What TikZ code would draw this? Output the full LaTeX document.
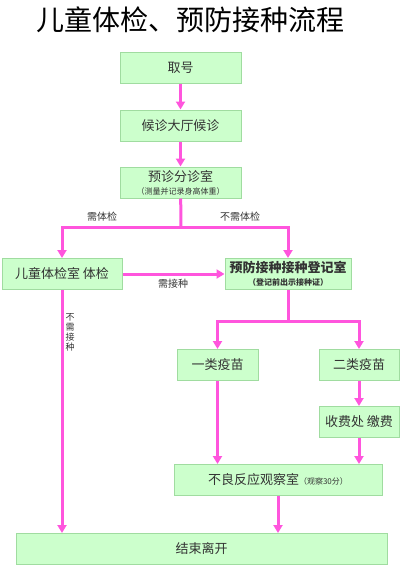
\documentclass[tikz,border=0pt]{standalone}
\usepackage{fontspec}
\newfontfamily\cjk{Noto Sans CJK SC}
\usetikzlibrary{arrows.meta}
\definecolor{boxfill}{HTML}{CCFFCC}
\definecolor{boxline}{HTML}{A0DCA0}
\definecolor{flowpink}{HTML}{FF55DD}
\definecolor{txt}{HTML}{333333}

\begin{document}
\begin{tikzpicture}[x=1pt, y=-1pt, >={Triangle[length=8pt,width=9pt]},
				box/.style={draw=boxline, fill=boxfill, line width=1pt, inner sep=0pt, minimum height=31pt, text=txt, align=center, font=\cjk\fontsize{13}{15}\selectfont},
				flow/.style={->, flowpink, line width=3pt},
				flowline/.style={flowpink, line width=3pt},
				lbl/.style={text=txt, inner sep=0pt, font=\cjk\fontsize{10}{10}\selectfont}]
				
				\useasboundingbox (0,0) rectangle (400,566);
				
				% --- 1. 标题 ---
				\node[text=black, font=\cjk\fontsize{28}{30}\selectfont] (title) at (191,20) {儿童体检、预防接种流程};
				
				% --- 2. 流程框 ---
				\node[box, minimum width=121pt] (quhao) at (180.5,67.5) {取号};
				\node[box, minimum width=121pt] (houzhen) at (180.5,125.5) {候诊大厅候诊};
				\node[box, minimum width=121pt] (fenzhen) at (180.5,182.5) {预诊分诊室\\[-2pt]{\fontsize{8}{9}\selectfont （测量并记录身高体重）}};
				\node[box, minimum width=120pt] (tijian) at (62,274) {儿童体检室 体检};
				\node[box, minimum width=126pt] (dengji) at (288,274) {\bfseries 预防接种接种登记室\\[-2pt]{\bfseries\fontsize{8}{9}\selectfont （登记前出示接种证）}};
				\node[box, minimum width=81pt] (yilei) at (217.5,365) {一类疫苗};
				\node[box, minimum width=80pt] (erlei) at (359,365) {二类疫苗};
				\node[box, minimum width=80pt] (shoufei) at (359,422) {收费处 缴费};
				\node[box, minimum width=208pt] (guancha) at (278,480) {不良反应观察室{\fontsize{8}{9}\selectfont （观察30分）}};
				\node[box, minimum width=371pt] (jieshu) at (201.5,549) {结束离开};
				
				% --- 3. 分叉点 ---
				\coordinate (fork1) at (181,227);
				\coordinate (fork2) at (288,321);
				
				% --- 4. 连线 ---
				\draw[flow] (quhao) -- (houzhen);
				\draw[flow] (houzhen) -- (fenzhen);
				\draw[flowline] (fenzhen) -- (fork1);
				\draw[flow] (fork1) -| (tijian);
				\draw[flow] (fork1) -| (dengji);
				\draw[flow] (tijian) -- (dengji);
				\draw[flow] (tijian) -- (tijian |- jieshu.north);
				\draw[flowline] (dengji) -- (fork2);
				\draw[flow] (fork2) -| (yilei);
				\draw[flow] (fork2) -| (erlei);
				\draw[flow] (erlei) -- (shoufei);
				\draw[flow] (yilei) -- (yilei |- guancha.north);
				\draw[flow] (shoufei) -- (shoufei |- guancha.north);
				\draw[flow] (guancha) -- (guancha |- jieshu.north);
				
				% --- 5. 连线标注 ---
				\node[lbl] (xutijian) at (102,217) {需体检};
				\node[lbl] (buxutijian) at (240,217) {不需体检};
				\node[lbl] (xujiezhong) at (173,284) {需接种};
				\node[lbl, align=center, font=\cjk\fontsize{9}{10}\selectfont] (buxujiezhong) at (70,332) {不\\需\\接\\种};
				
			\end{tikzpicture}
\end{document}
